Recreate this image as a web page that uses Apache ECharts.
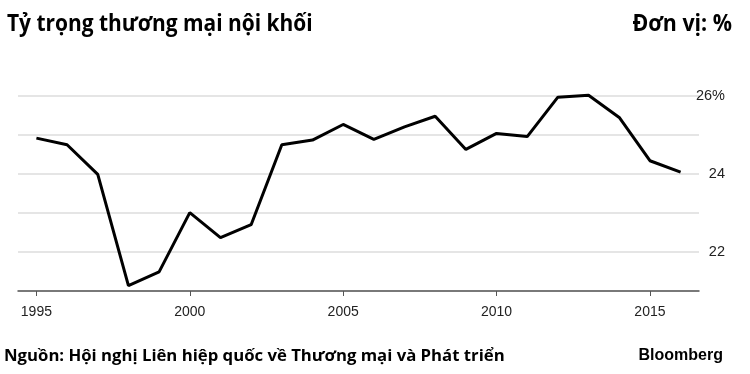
<!DOCTYPE html>
<html>
<head>
<meta charset="utf-8">
<script src="https://cdn.jsdelivr.net/npm/echarts@6/dist/echarts.min.js"></script>
<style>
html,body{margin:0;padding:0;background:#fff;}
#chart{width:750px;height:374px;}
</style>
</head>
<body>
<div id="chart"></div>
<script>
var years = [1995,1996,1997,1998,1999,2000,2001,2002,2003,2004,2005,2006,2007,2008,2009,2010,2011,2012,2013,2014,2015,2016];
var shares = [24.92,24.75,23.99,21.14,21.49,23.01,22.37,22.70,24.75,24.87,25.27,24.89,25.21,25.48,24.63,25.04,24.96,25.97,26.02,25.45,24.34,24.05];
var xTickYears = [1995,2000,2005,2010,2015];
var yLabels = {26:'26%', 24:'24', 22:'22'};
var titleText = 'Tỷ trọng thương mại nội khối';
var unitText = 'Đơn vị: %';
var sourceText = 'Nguồn: Hội nghị Liên hiệp quốc về Thương mại và Phát triển';
var brandText = 'Bloomberg';

var chart = echarts.init(document.getElementById('chart'), null, {renderer:'canvas'});
var sans = "'Open Sans', 'Noto Sans', sans-serif";
var helv = "'Liberation Sans', Arial, Helvetica, sans-serif";
var option = {
  animation: false,
  backgroundColor: '#ffffff',
  grid: {left: 18, right: 51, top: 96, bottom: 83},
  graphic: [
    {type:'text', x: 7, y: 24, scaleX: 0.91, style:{text: titleText, font: "bold 23px " + sans, fill:'#000', verticalAlign:'middle', align:'left'}},
    {type:'text', x: 732, y: 24, scaleX: 0.93, style:{text: unitText, font: "bold 23px " + sans, fill:'#000', verticalAlign:'middle', align:'right'}},
    {type:'text', x: 4, y: 356, scaleX: 1.045, style:{text: sourceText, font: "bold 16px " + sans, fill:'#000', verticalAlign:'middle', align:'left'}},
    {type:'text', x: 723, y: 356, style:{text: brandText, font: "bold 16px " + helv, fill:'#000', verticalAlign:'middle', align:'right'}}
  ],
  xAxis: {
    type: 'value',
    min: 1994.4,
    max: 2016.6,
    axisLine: {show: true, lineStyle: {color: '#555', width: 1.5}},
    axisTick: {show: true, customValues: xTickYears, length: 5, lineStyle: {color: '#555', width: 1}},
    axisLabel: {customValues: xTickYears, margin: 14, fontSize: 14, fontFamily: helv, color: '#222', formatter: function(v){return String(v);}},
    splitLine: {show: false}
  },
  yAxis: {
    type: 'value',
    position: 'right',
    min: 21,
    max: 26,
    interval: 1,
    axisLine: {show: false},
    axisTick: {show: false},
    axisLabel: {margin: 26, align: 'right', fontSize: 14.5, fontFamily: helv, color: '#222',
      formatter: function(v){ return yLabels[v] || ''; }},
    splitLine: {show: true, lineStyle: {color: '#dddddd', width: 1.5}}
  },
  series: [{
    type: 'line',
    data: years.map(function(y, i){ return [y, shares[i]]; }),
    showSymbol: false,
    symbol: 'none',
    clip: false,
    lineStyle: {color: '#000', width: 3},
    z: 5
  }]
};
chart.setOption(option);
</script>
</body>
</html>
